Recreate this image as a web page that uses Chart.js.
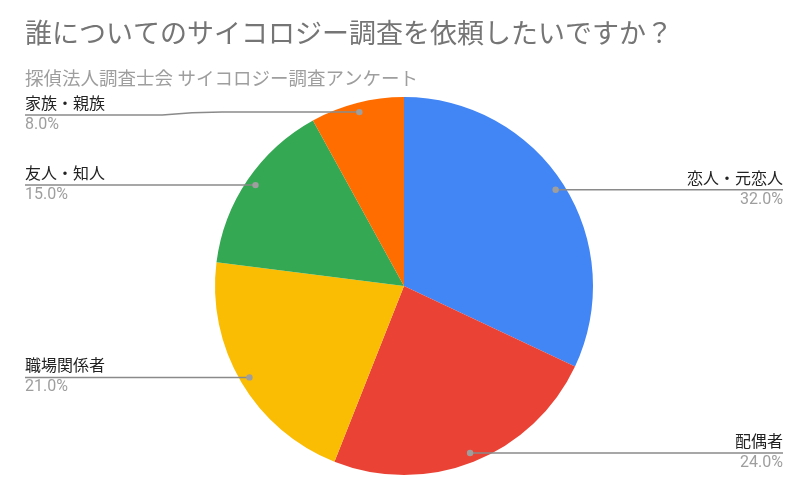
<!DOCTYPE html>
<html>
<head>
<meta charset="utf-8">
<script src="https://cdn.jsdelivr.net/npm/chart.js@4/dist/chart.umd.min.js"></script>
<style>
  html, body { margin: 0; padding: 0; background: #fff; }
  #wrap { width: 809px; height: 500px; position: relative; }
</style>
</head>
<body>
<div id="wrap"><canvas id="pie"></canvas></div>
<script>
// **********************************************
// Data

const titleText = '誰についてのサイコロジー調査を依頼したいですか？';
const subtitleText = '探偵法人調査士会 サイコロジー調査アンケート';

const categories = ['恋人・元恋人', '配偶者', '職場関係者', '友人・知人', '家族・親族'];
const shares = [32, 24, 21, 15, 8];
const sliceColors = ['#4285F4', '#EA4335', '#FBBC04', '#34A853', '#FF6D01'];

const FONT = "Roboto, 'Noto Sans CJK JP', sans-serif";


// **********************************************
// Title + leader line labels (drawn like the Sheets chart)

const sheetsLabels = {
    id: 'sheetsLabels',
    afterDraw(chart) {
        const ctx = chart.ctx;
        const total = shares.reduce((a, b) => a + b, 0);
        const leftX = 25;
        const rightX = chart.width - 26;
        // keep labels clear of the subtitle
        const minLineY = 115;

        ctx.save();
        // title and subtitle
        ctx.textBaseline = 'middle';
        ctx.textAlign = 'left';
        ctx.fillStyle = '#757575';
        ctx.font = '27px ' + FONT;
        ctx.fillText(titleText, leftX, 36);
        ctx.fillStyle = '#9e9e9e';
        ctx.font = '18.5px ' + FONT;
        ctx.fillText(subtitleText, leftX, 80);

        // slice labels
        const arcs = chart.getDatasetMeta(0).data;
        arcs.forEach((arc, i) => {
            const p = arc.getProps(['x', 'y', 'startAngle', 'endAngle', 'outerRadius'], true);
            const mid = (p.startAngle + p.endAngle) / 2;
            const r = p.outerRadius * 0.95;
            const dx = p.x + Math.cos(mid) * r;
            const dy = p.y + Math.sin(mid) * r;
            const onRight = Math.cos(mid) > 0;
            const endX = onRight ? rightX : leftX;
            const lineY = Math.max(dy, minLineY);

            // leader line (bends a little when pushed down)
            ctx.strokeStyle = '#8a8a8a';
            ctx.lineWidth = 1.5;
            ctx.beginPath();
            ctx.moveTo(dx, dy);
            if (lineY !== dy) {
                const bendX = (dx + endX) / 2;
                ctx.lineTo(bendX + 30, dy);
                ctx.quadraticCurveTo(bendX, dy, bendX - 30, lineY);
            }
            ctx.lineTo(endX, lineY);
            ctx.stroke();

            // dot
            ctx.fillStyle = '#9e9e9e';
            ctx.beginPath();
            ctx.arc(dx, dy, 3.2, 0, Math.PI * 2);
            ctx.fill();

            // texts
            ctx.textAlign = onRight ? 'right' : 'left';
            ctx.font = '16px ' + FONT;
            ctx.fillStyle = '#222222';
            ctx.fillText(categories[i], endX, lineY - 10);
            ctx.fillStyle = '#9e9e9e';
            ctx.fillText((shares[i] / total * 100).toFixed(1) + '%', endX, lineY + 10);
        });
        ctx.restore();
    }
};


// **********************************************
// Pie chart

let ctx = document.getElementById('pie').getContext('2d');

let pieChart = new Chart(ctx, {
    type: 'pie',
    data: {
        labels: categories,
        datasets: [{
            data: shares,
            backgroundColor: sliceColors,
            borderWidth: 0
        }]
    },
    options: {
        responsive: true,
        maintainAspectRatio: false,
        animation: false,
        layout: {
            padding: { top: 97, bottom: 25, left: 215, right: 216 }
        },
        plugins: {
            legend: { display: false },
            tooltip: { enabled: false },
            title: { display: false }
        }
    },
    plugins: [sheetsLabels]
});
</script>
</body>
</html>
